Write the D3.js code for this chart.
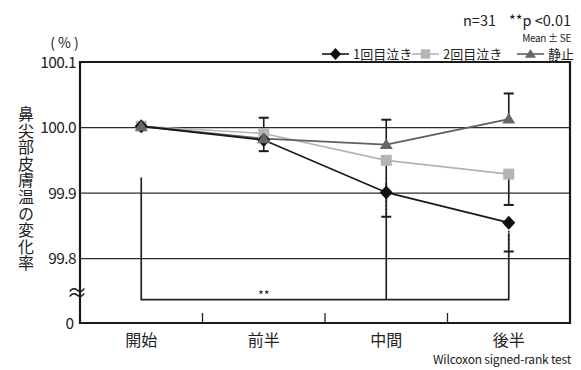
<!DOCTYPE html>
<html><head><meta charset="utf-8">
<script src="https://cdn.jsdelivr.net/npm/d3@7"></script>
<style>
html,body{margin:0;padding:0;background:#fff;}
svg{display:block;font-family:"Noto Sans CJK JP","Noto Sans",sans-serif;}
</style></head>
<body><svg id="c" width="581" height="370"></svg>
<script>
const categories = ["開始","前半","中間","後半"];
const seriesNames = ["1回目泣き","2回目泣き","静止"];
const firstCry  = [100.002, 99.981, 99.901, 99.855];
const secondCry = [100.002, 99.991, 99.950, 99.929];
const still     = [100.002, 99.983, 99.974, 100.013];
// SE values (direction: first/second down, still up)
const firstSE  = [0, 0, 0.037, 0.044];
const secondSE = [0, 0.027, 0.050, 0.047];
const stillSE  = [0, 0.032, 0.038, 0.039];
const yTicks = [99.8, 99.9, 100.0, 100.1];
const yTickLabels = ["99.8","99.9","100.0","100.1"];

const svg = d3.select("#c");
const L = 80, R = 570, T = 62, B = 323;
const x = d3.scaleBand().domain(categories).range([L, R]);
const y = d3.scaleLinear().domain([99.8, 100.1]).range([258.7, T]);
const cx = c => x(c) + x.bandwidth()/2;

const series = [
  {name: seriesNames[0], vals: firstCry, se: firstSE, dir: -1, dashed: true, line: "#1a1a1a", fill: "#111", shape: "diamond"},
  {name: seriesNames[1], vals: secondCry, se: secondSE, dir: -1, dashed: false, line: "#b4b4b4", fill: "#b4b4b4", shape: "square"},
  {name: seriesNames[2], vals: still, se: stillSE, dir: 1, dashed: false, line: "#5f5f5f", fill: "#666", shape: "triangle"}
];

// gridlines
svg.append("g").selectAll("line").data(yTicks.slice(0,3)).join("line")
  .attr("x1", L).attr("x2", R).attr("y1", d => y(d)).attr("y2", d => y(d))
  .attr("stroke", "#2a2a2a").attr("stroke-width", 1.2);

// y tick labels
svg.append("g").selectAll("text").data(yTicks).join("text")
  .attr("x", 76).attr("y", d => y(d)).attr("dy", "0.36em")
  .attr("text-anchor", "end").attr("font-size", 15.5).attr("letter-spacing", -0.6)
  .attr("fill", "#222").text((d,i) => yTickLabels[i]);
svg.append("text").attr("x", 74).attr("y", B).attr("dy", "0.36em")
  .attr("text-anchor", "end").attr("font-size", 15.5).attr("fill", "#222").text("0");
svg.append("text").attr("x", 77).attr("y", 292).attr("dy", "0.36em")
  .attr("text-anchor", "middle").attr("font-size", 21).attr("fill", "#222").text("≈");
svg.append("text").attr("x", 66).attr("y", 43).attr("dy", "0.36em")
  .attr("text-anchor", "middle").attr("font-size", 14).attr("letter-spacing", 3).attr("fill", "#222").text("(%)");

// y title vertical
svg.append("text").attr("x", 26).attr("y", 189)
  .attr("text-anchor", "middle").attr("font-size", 16).attr("fill", "#222")
  .style("writing-mode", "vertical-rl").attr("letter-spacing", 0.6)
  .text("鼻尖部皮膚温の変化率");

// bottom axis ticks between categories
svg.append("g").selectAll("line").data(categories.slice(1)).join("line")
  .attr("x1", d => x(d)).attr("x2", d => x(d)).attr("y1", B).attr("y2", B - 10)
  .attr("stroke", "#222").attr("stroke-width", 1.3);

// x labels
svg.append("g").selectAll("text").data(categories).join("text")
  .attr("x", d => cx(d)).attr("y", 340).attr("dy", "0.36em")
  .attr("text-anchor", "middle").attr("font-size", 16).attr("fill", "#222").text(d => d);

svg.append("text").attr("x", 571).attr("y", 360).attr("dy", "0.36em")
  .attr("text-anchor", "end").attr("font-size", 12).attr("letter-spacing", -0.2).attr("fill", "#222")
  .text("Wilcoxon signed-rank test");

// significance bracket
const by = 299.7;
const br = svg.append("g").attr("stroke", "#222").attr("stroke-width", 1.7).attr("fill", "none");
br.append("path").attr("d", `M${cx(categories[0])},${y(99.924)}V${by}H${cx(categories[3])}V${y(99.839)}`);
br.append("line").attr("x1", cx(categories[2])).attr("x2", cx(categories[2])).attr("y1", y(99.916)).attr("y2", by);
svg.append("text").attr("x", cx(categories[1])).attr("y", 295).attr("dy", "0.36em")
  .attr("text-anchor", "middle").attr("font-size", 12.5).attr("fill", "#222").text("**");

// frame
svg.append("path").attr("d", `M${L},${T}H${R}V${B}H${L}Z`).attr("fill", "none")
  .attr("stroke", "#1a1a1a").attr("stroke-width", 2.2);

// lines
const line = d3.line().x((d,i) => cx(categories[i])).y(d => y(d));
[series[1], series[2], series[0]].forEach(s => {
  svg.append("path").datum(s.vals).attr("d", line).attr("fill", "none")
    .attr("stroke", s.line).attr("stroke-width", s.shape === "square" ? 1.6 : 1.8);
});

// error bars
series.forEach(s => {
  const g = svg.append("g");
  s.vals.forEach((v, i) => {
    if (!s.se[i]) return;
    const xc = cx(categories[i]);
    const end = v + s.dir * s.se[i];
    g.append("line").attr("x1", xc).attr("x2", xc).attr("y1", y(v)).attr("y2", y(end))
      .attr("stroke", "#1a1a1a").attr("stroke-width", 1.6)
      .attr("stroke-dasharray", s.dashed ? "2,2" : null);
    g.append("line").attr("x1", xc - 5).attr("x2", xc + 5).attr("y1", y(end)).attr("y2", y(end))
      .attr("stroke", "#1a1a1a").attr("stroke-width", 2);
  });
});

// markers
function marker(sel, shape, fill) {
  if (shape === "square") sel.append("rect").attr("x", -5.5).attr("y", -5.5).attr("width", 11).attr("height", 11).attr("fill", fill);
  else if (shape === "diamond") sel.append("path").attr("d", "M0,-7L6.5,0L0,7L-6.5,0Z").attr("fill", fill);
  else sel.append("path").attr("d", "M0,-6L6.5,4.5L-6.5,4.5Z").attr("fill", fill);
}
[series[1], series[0], series[2]].forEach(s => {
  s.vals.forEach((v, i) => {
    const g = svg.append("g").attr("transform", `translate(${cx(categories[i])},${y(v)})`);
    marker(g, s.shape, s.fill);
  });
});

// header texts
svg.append("text").attr("x", 571).attr("y", 21).attr("dy", "0.36em").attr("text-anchor", "end")
  .attr("font-size", 14.5).attr("fill", "#222").attr("xml:space", "preserve").text("n=31    **p <0.01");
svg.append("text").attr("x", 571).attr("y", 38).attr("dy", "0.36em").attr("text-anchor", "end")
  .attr("font-size", 10).attr("letter-spacing", -0.3).attr("fill", "#222").text("Mean ± SE");

// legend
const legendX = [322, 412, 517];
const lg = svg.append("g");
series.forEach((s, i) => {
  const x0 = legendX[i], yy = 54;
  lg.append("line").attr("x1", x0).attr("x2", x0 + 27).attr("y1", yy).attr("y2", yy)
    .attr("stroke", s.line).attr("stroke-width", 1.6);
  const m = lg.append("g").attr("transform", `translate(${x0 + 13.5},${yy}) scale(0.85)`);
  marker(m, s.shape, s.fill);
  lg.append("text").attr("x", x0 + 31).attr("y", yy).attr("dy", "0.36em")
    .attr("font-size", 13).attr("fill", "#222").text(s.name);
});
</script></body></html>
